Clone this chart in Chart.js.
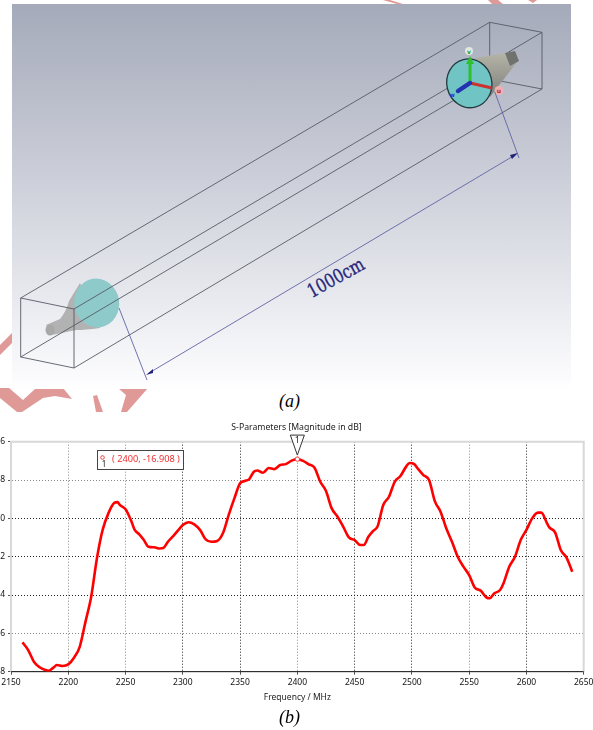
<!DOCTYPE html>
<html>
<head>
<meta charset="utf-8">
<title>S-Parameters</title>
<script src="https://cdn.jsdelivr.net/npm/chart.js@4"></script>
<style>
    html, body { margin: 0; padding: 0; background: #fff; }
    #page { position: relative; width: 593px; height: 730px; overflow: hidden; }
    #setup { position: absolute; left: 0; top: 0; }
    #plot { position: absolute; left: 0; top: 415px; }
    .caption { position: absolute; font: italic 18px "Liberation Serif", serif; color: #000; }
</style>
</head>
<body>
<div id="page">
    <!-- measurement setup picture (a) -->
    <svg id="setup" width="593" height="415" viewBox="0 0 593 415">
        <defs>
            <linearGradient id="panelFill" x1="0" y1="0" x2="0" y2="1">
                <stop offset="0" stop-color="#a5aaba"/>
                <stop offset="0.5" stop-color="#d0d3dc"/>
                <stop offset="0.97" stop-color="#fbfbfd"/>
                <stop offset="1" stop-color="#ffffff"/>
            </linearGradient>
            <linearGradient id="hornFar" x1="0" y1="0" x2="0" y2="1">
                <stop offset="0" stop-color="#b5b5a8"/>
                <stop offset="1" stop-color="#7f807c"/>
            </linearGradient>
            <filter id="soft"><feGaussianBlur stdDeviation="0.5"/></filter>
        </defs>

        <!-- watermark scraps -->
        <g fill="#df9a98">
            <polygon points="383,0 390,0 403,4 397,4"/>
            <polygon points="488,0 498,0 503,4 492,4"/>
            <polygon points="528,0 537,0 533,3"/>
            <polygon points="0,345 12,333 12,343 0,355"/>
            <polygon points="0,388 9,388 23,400 35,389 63,388 72,399 55,396 43,398 22,412 17,412 0,398"/>
            <polygon points="93,396 97,395 103,412 96,412"/>
            <polygon points="118,388 148,388 127,412 121,412 126,395"/>
        </g>

        <rect x="12" y="4" width="559" height="385" fill="url(#panelFill)"/>

        <g filter="url(#soft)">
            <!-- near horn -->
            <path d="M46,325 L60,319 Q66,312 69,301 L80,283 L100,328 Q85,330 76,330 L52,335 Z" fill="#b2b2b2"/>
            <ellipse cx="50" cy="330" rx="4.5" ry="5.5" fill="#a8a8a8"/>
            <ellipse cx="96.7" cy="303" rx="22.5" ry="24.5" fill="#8fcaca" transform="rotate(-10 96.7 303)"/>

            <!-- box -->
            <g fill="none" stroke="#565a66" stroke-width="0.9">
                <polygon points="20.7,298 74,309 74,368 20.7,357"/>
                <line x1="20.7" y1="298" x2="489.7" y2="22.3"/>
                <line x1="74" y1="309" x2="542" y2="32.3"/>
                <line x1="74" y1="368" x2="542" y2="89"/>
                <line x1="20.7" y1="357" x2="489.7" y2="79"/>
                <polygon points="489.7,22.3 542,32.3 542,89 489.7,79"/>
            </g>

            <!-- far horn -->
            <polygon points="475,58 510,52 517,62 490,97" fill="url(#hornFar)"/>
            <polygon points="505,53 515,51 519,61 510,66" fill="#6f7270"/>
            <ellipse cx="469.3" cy="83.3" rx="22.5" ry="24.5" fill="#70c4c4" stroke="#233a40" stroke-width="1.3" transform="rotate(-14 469.3 83.3)"/>
            <line x1="470" y1="82" x2="470" y2="60" stroke="#2fc02f" stroke-width="3"/>
            <polygon points="466,64 470,56 474,64" fill="#2fc02f"/>
            <line x1="470" y1="83" x2="492" y2="88" stroke="#cc3030" stroke-width="3"/>
            <line x1="470" y1="83" x2="458" y2="91" stroke="#2030b0" stroke-width="4.5" stroke-linecap="round"/>
            <circle cx="469" cy="51" r="4" fill="#dfe8df"/>
            <circle cx="499" cy="90.5" r="4.5" fill="#f0b0b0"/>

            <!-- dimension -->
            <g fill="none" stroke="#6064a4" stroke-width="0.9">
                <line x1="119" y1="308" x2="147" y2="380"/>
                <line x1="494.7" y1="91.7" x2="519" y2="158"/>
                <line x1="149" y1="373" x2="515" y2="155"/>
            </g>
            <polygon points="146,375 153,369 153,373" fill="#22227a"/>
            <polygon points="518,153 510,155 512,159" fill="#22227a"/>
        </g>

        <text x="469" y="54" font-family="DejaVu Sans" font-size="6" font-weight="bold" fill="#2a9a2a" text-anchor="middle">v</text>
        <text x="499" y="93" font-family="DejaVu Sans" font-size="6" font-weight="bold" fill="#c02020" text-anchor="middle">u</text>
        <text x="452" y="97" font-family="DejaVu Sans" font-size="6" font-weight="bold" fill="#2030d0" text-anchor="middle">w</text>
        <text x="336" y="284" font-family="DejaVu Serif" font-size="19" fill="#27277c" stroke="#27277c" stroke-width="0.35" text-anchor="middle" textLength="62" lengthAdjust="spacingAndGlyphs" transform="rotate(-29 336 278)">1000cm</text>
    </svg>

    <div class="caption" style="left:279px; top:391px;">(a)</div>

    <canvas id="plot" width="593" height="315"></canvas>

    <div class="caption" style="left:279px; top:707px;">(b)</div>
</div>

<script>
    // values
    const frequencyMHz = [
        2160, 2165, 2170, 2175, 2180, 2183, 2187, 2190, 2195, 2200, 2205, 2210, 2215, 2220, 2225, 2230,
        2235, 2240, 2243, 2245, 2250, 2255, 2258, 2262, 2266, 2270, 2275, 2280, 2283, 2287, 2292, 2297,
        2300, 2305, 2310, 2315, 2320, 2325, 2330, 2335, 2340, 2345, 2350, 2354, 2358, 2362, 2365, 2370,
        2375, 2380, 2385, 2390, 2395, 2400, 2405, 2410, 2415, 2420, 2425, 2430, 2435, 2440, 2445, 2450,
        2455, 2458, 2462, 2466, 2470, 2475, 2480, 2485, 2490, 2495, 2498, 2502, 2505, 2510, 2515, 2520,
        2525, 2530, 2535, 2540, 2545, 2550, 2555, 2560, 2565, 2568, 2572, 2577, 2580, 2585, 2590, 2595,
        2600, 2605, 2610, 2613, 2618, 2620, 2625, 2630, 2635, 2640
    ];
    const magnitudeDb = [
        -26.47, -26.87, -27.48, -27.77, -27.91, -27.95, -27.79, -27.65, -27.70, -27.62, -27.27, -26.70, -25.40, -24.09, -22.09, -20.60,
        -19.74, -19.20, -19.15, -19.30, -19.53, -20.14, -20.60, -20.83, -21.13, -21.48, -21.51, -21.57, -21.55, -21.22, -20.90, -20.55,
        -20.35, -20.20, -20.31, -20.60, -21.10, -21.22, -21.18, -20.78, -19.83, -18.96, -18.17, -18.05, -17.95, -17.57, -17.50, -17.62,
        -17.37, -17.43, -17.22, -17.17, -16.99, -16.91, -17.00, -17.18, -17.36, -18.09, -18.57, -19.48, -19.90, -20.43, -20.99, -21.13,
        -21.39, -21.39, -20.96, -20.66, -20.43, -19.30, -18.87, -18.09, -17.79, -17.30, -17.11, -17.17, -17.39, -17.74, -18.00, -19.10,
        -19.65, -20.52, -21.22, -22.00, -22.52, -22.96, -23.62, -23.77, -24.12, -24.17, -23.91, -23.74, -23.39, -22.52, -22.00, -21.13,
        -20.60, -20.00, -19.70, -19.70, -20.26, -20.47, -20.73, -21.65, -22.05, -22.78
    ];
    const markerFrequency = [2400];
    const markerValue = [-16.908];
    const markerText = '( 2400, -16.908 )';
    const darkFreqTicks = [2300, 2350, 2450, 2500, 2600];
    const darkDbTicks = [-20, -22, -24];

    const tickFont = { family: '"Noto Sans"', size: 8.5 };

    // the "1" flag above the marker and the readout box
    const markerPlugin = {
        id: 'markerPlugin',
        afterDraw: function(chart) {
            const ctx = chart.ctx;
            const px = chart.scales.x.getPixelForValue(markerFrequency[0]);
            const py = chart.scales.y.getPixelForValue(markerValue[0]);

            ctx.save();
            ctx.beginPath();
            ctx.moveTo(px - 7, py - 24);
            ctx.lineTo(px + 7, py - 24);
            ctx.lineTo(px, py - 4);
            ctx.closePath();
            ctx.fillStyle = '#fff';
            ctx.fill();
            ctx.strokeStyle = '#333';
            ctx.lineWidth = 1;
            ctx.stroke();
            ctx.fillStyle = '#222';
            ctx.font = '9px "Noto Sans"';
            ctx.textAlign = 'center';
            ctx.textBaseline = 'middle';
            ctx.fillText('1', px, py - 19);

            // readout box
            ctx.fillStyle = '#fff';
            ctx.fillRect(97.5, 35.5, 86, 19);
            ctx.strokeStyle = '#444';
            ctx.strokeRect(97.5, 35.5, 86, 19);
            ctx.beginPath();
            ctx.arc(102.5, 42.5, 1.8, 0, Math.PI * 2);
            ctx.strokeStyle = '#f04040';
            ctx.stroke();
            ctx.fillStyle = '#222';
            ctx.font = '8px "Noto Sans"';
            ctx.fillText('1', 104, 50);
            ctx.fillStyle = '#f03030';
            ctx.font = '9.2px "Noto Sans"';
            ctx.textAlign = 'left';
            ctx.fillText(markerText, 112, 44.5);
            ctx.restore();
        }
    };

    // solid frame round the plot, the grid itself is dotted
    const framePlugin = {
        id: 'framePlugin',
        beforeDatasetsDraw: function(chart) {
            const a = chart.chartArea;
            const ctx = chart.ctx;
            ctx.save();
            ctx.strokeStyle = '#d8d8d8';
            ctx.lineWidth = 2;
            ctx.beginPath();
            ctx.moveTo(a.left, a.bottom);
            ctx.lineTo(a.left, a.top);
            ctx.lineTo(a.right, a.top);
            ctx.lineTo(a.right, a.bottom);
            ctx.stroke();
            ctx.strokeStyle = '#333';
            ctx.lineWidth = 1;
            ctx.beginPath();
            ctx.moveTo(a.left, a.bottom);
            ctx.lineTo(a.right, a.bottom);
            ctx.stroke();
            ctx.restore();
        }
    };

    function initPlot() {
        new Chart(document.getElementById('plot').getContext('2d'), {
            type: 'scatter',
            data: {
                datasets: [
                    {
                        data: frequencyMHz.map(function(f, i) { return { x: f, y: magnitudeDb[i] }; }),
                        showLine: true,
                        borderColor: '#ff0000',
                        borderWidth: 2.6,
                        pointRadius: 0,
                        cubicInterpolationMode: 'monotone',
                        order: 2
                    },
                    {
                        data: markerFrequency.map(function(f, i) { return { x: f, y: markerValue[i] }; }),
                        showLine: false,
                        pointRadius: 2.2,
                        pointBackgroundColor: '#ffffff',
                        pointBorderColor: '#f04040',
                        pointBorderWidth: 1,
                        order: 1
                    }
                ]
            },
            options: {
                responsive: false,
                animation: false,
                layout: { padding: { top: 0, right: 0, left: 0, bottom: 27 } },
                plugins: {
                    legend: { display: false },
                    tooltip: { enabled: false },
                    title: {
                        display: true,
                        text: 'S-Parameters [Magnitude in dB]',
                        color: '#222',
                        font: { family: '"Noto Sans"', size: 8.7, weight: 'normal' },
                        padding: { top: 7, bottom: 9.26 }
                    }
                },
                scales: {
                    x: {
                        type: 'linear',
                        min: 2150,
                        max: 2650,
                        afterFit: function(axis) {
                            axis.height = 31.3;
                            axis.paddingLeft = 0;
                            axis.paddingRight = 9.3;
                        },
                        title: {
                            display: true,
                            text: 'Frequency / MHz',
                            color: '#222',
                            font: tickFont,
                            padding: { top: 1, bottom: 0 }
                        },
                        ticks: {
                            stepSize: 50,
                            autoSkip: false,
                            maxRotation: 0,
                            color: '#111',
                            font: tickFont,
                            padding: 3,
                            callback: function(value) { return String(value); }
                        },
                        grid: {
                            color: function(c) {
                                return darkFreqTicks.includes(c.tick.value) ? '#222' : '#888';
                            },
                            tickColor: '#555',
                            tickLength: 3,
                            lineWidth: 1
                        },
                        border: { color: '#222', dash: [1, 2] }
                    },
                    y: {
                        min: -28,
                        max: -16,
                        afterFit: function(axis) {
                            axis.width = 11;
                            axis.paddingTop = 0;
                            axis.paddingBottom = 0;
                        },
                        ticks: {
                            stepSize: 2,
                            autoSkip: false,
                            color: '#111',
                            font: tickFont,
                            padding: 3
                        },
                        grid: {
                            color: function(c) {
                                return darkDbTicks.includes(c.tick.value) ? '#222' : '#888';
                            },
                            tickColor: '#555',
                            tickLength: 3,
                            lineWidth: 1
                        },
                        border: { color: '#222', dash: [1, 2] }
                    }
                }
            },
            plugins: [markerPlugin, framePlugin]
        });
    }

    initPlot();
</script>
</body>
</html>
